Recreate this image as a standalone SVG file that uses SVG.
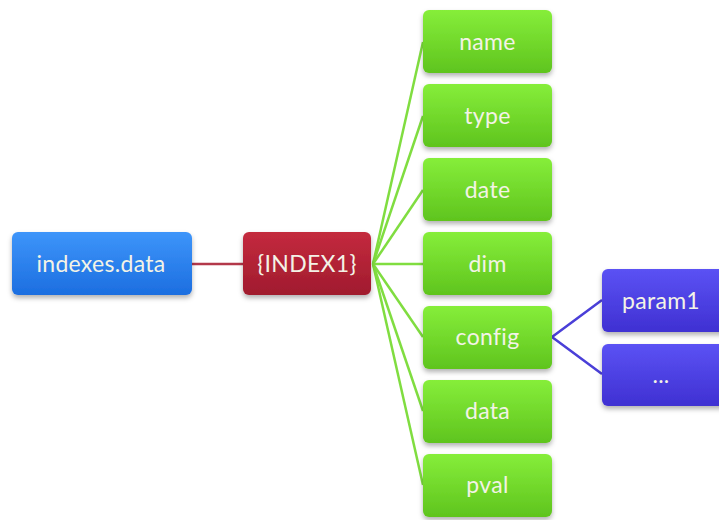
<svg xmlns="http://www.w3.org/2000/svg" width="719" height="520" viewBox="0 0 719 520">
<defs>
<linearGradient id="gBlue" x1="0" y1="0" x2="0" y2="1"><stop offset="0" stop-color="#3d95fa"/><stop offset="1" stop-color="#1c6ee0"/></linearGradient>
<linearGradient id="gRed" x1="0" y1="0" x2="0" y2="1"><stop offset="0" stop-color="#c42a3e"/><stop offset="1" stop-color="#a01b2e"/></linearGradient>
<linearGradient id="gGreen" x1="0" y1="0" x2="0" y2="1"><stop offset="0" stop-color="#86ee3a"/><stop offset="1" stop-color="#5fc41e"/></linearGradient>
<linearGradient id="gPurple" x1="0" y1="0" x2="0" y2="1"><stop offset="0" stop-color="#5b52f4"/><stop offset="1" stop-color="#3f30d2"/></linearGradient>
<filter id="sh" x="-10%" y="-10%" width="120%" height="140%"><feDropShadow dx="0" dy="3" stdDeviation="2.5" flood-color="#000" flood-opacity="0.3"/></filter>
</defs>
<style>
text{font-family:Lato,"Open Sans","Liberation Sans",sans-serif;font-size:23px;fill:#f3f3e6;text-anchor:middle;dominant-baseline:central;letter-spacing:0.3px}
.g rect{fill:url(#gGreen)}
.p rect{fill:url(#gPurple)}
rect{filter:url(#sh)}
</style>
<rect x="0" y="0" width="719" height="520" fill="#ffffff" style="filter:none"/>
<g id="connectors" fill="none" stroke-width="2.5">
<line x1="192" y1="264" x2="243" y2="264" stroke="#b3384a"/>
<g stroke="#80dd40">
<line x1="373" y1="264" x2="423" y2="42"/>
<line x1="373" y1="264" x2="423" y2="116"/>
<line x1="373" y1="264" x2="423" y2="190"/>
<line x1="373" y1="264" x2="423" y2="264"/>
<line x1="373" y1="264" x2="423" y2="337"/>
<line x1="373" y1="264" x2="423" y2="411"/>
<line x1="373" y1="264" x2="423" y2="485"/>
</g>
<polyline points="602,300 552,337 602,374" stroke="#4a3fd8"/>
</g>
<g id="indexes_data"><rect x="12" y="232" width="180" height="63" rx="6" fill="url(#gBlue)"/><text x="101" y="263">indexes.data</text></g>
<g id="index1"><rect x="243" y="232" width="128" height="63" rx="6" fill="url(#gRed)"/><text x="307" y="263">{INDEX1}</text></g>
<g id="name" class="g"><rect x="423" y="10" width="129" height="63" rx="6"/><text x="487.5" y="41">name</text></g>
<g id="type" class="g"><rect x="423" y="84" width="129" height="63" rx="6"/><text x="487.5" y="115">type</text></g>
<g id="date" class="g"><rect x="423" y="158" width="129" height="63" rx="6"/><text x="487.5" y="189">date</text></g>
<g id="dim" class="g"><rect x="423" y="232" width="129" height="63" rx="6"/><text x="487.5" y="263">dim</text></g>
<g id="config" class="g"><rect x="423" y="306" width="129" height="63" rx="6"/><text x="487.5" y="336">config</text></g>
<g id="data" class="g"><rect x="423" y="380" width="129" height="63" rx="6"/><text x="487.5" y="410">data</text></g>
<g id="pval" class="g"><rect x="423" y="454" width="129" height="63" rx="6"/><text x="487.5" y="484">pval</text></g>
<g id="param1" class="p"><rect x="602" y="269" width="130" height="63" rx="6"/><text x="661" y="300">param1</text></g>
<g id="ellipsis" class="p"><rect x="602" y="344" width="130" height="62" rx="6"/><text x="661" y="374">...</text></g>
</svg>
